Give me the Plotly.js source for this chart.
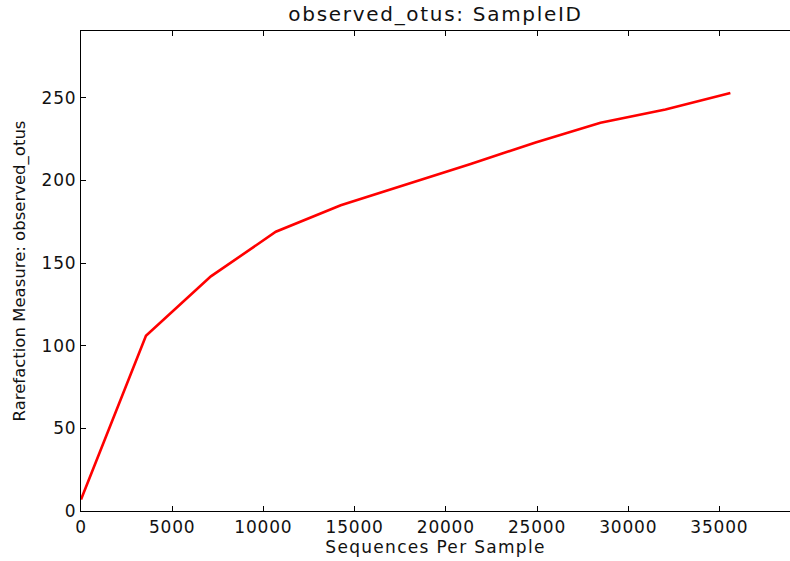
<!DOCTYPE html>
<html>
<head>
<meta charset="utf-8">
<script src="https://cdn.plot.ly/plotly-3.0.1.min.js"></script>
<style>
html,body{margin:0;padding:0;background:#fff;}
#chart{width:790px;height:561px;}
#chart .gtitle{letter-spacing:1.7px;}
#chart .xtitle{letter-spacing:1.3px;}
#chart .xtick text, #chart .ytick text{letter-spacing:0.8px;}
</style>
</head>
<body>
<div id="chart"></div>
<script>
const sequencesPerSample = [1, 3561, 7121, 10681, 14241, 17801, 21361, 24921, 28481, 32041, 35601];
const observedOtus = [7, 106, 142, 169, 185, 197.5, 210, 223, 235, 243, 253];
const xTickValues = [0, 5000, 10000, 15000, 20000, 25000, 30000, 35000];
const yTickValues = [0, 50, 100, 150, 200, 250];

const fam = 'DejaVu Sans, sans-serif';
const tickFont = {family: fam, color: '#111', size: 17};

Plotly.newPlot('chart', [{
  x: sequencesPerSample,
  y: observedOtus,
  type: 'scatter',
  mode: 'lines',
  line: {color: '#ff0000', width: 2.6},
  hoverinfo: 'skip'
}], {
  width: 790,
  height: 561,
  paper_bgcolor: '#fff',
  plot_bgcolor: '#fff',
  showlegend: false,
  margin: {l: 81, r: 0, t: 31, b: 50, pad: 0},
  font: tickFont,
  title: {text: 'observed_otus: SampleID', font: {family: fam, size: 20, color: '#111'}, x: 0.5, xref: 'paper', y: 0.987, yanchor: 'top'},
  xaxis: {
    range: [0, 38870],
    tickvals: xTickValues,
    ticktext: xTickValues.map(String),
    ticks: 'inside', ticklen: 5, tickwidth: 1, tickcolor: '#000',
    showline: true, linecolor: '#000', linewidth: 1.2, mirror: 'ticks',
    showgrid: false, zeroline: false,
    tickfont: tickFont,
    title: {text: 'Sequences Per Sample', font: {family: fam, size: 17, color: '#111'}, standoff: 3}
  },
  yaxis: {
    range: [0, 290.5],
    tickvals: yTickValues,
    ticktext: yTickValues.map(String),
    ticks: 'inside', ticklen: 5, tickwidth: 1, tickcolor: '#000',
    showline: true, linecolor: '#000', linewidth: 1.2, mirror: false,
    showgrid: false, zeroline: false,
    tickfont: tickFont,
    title: {text: 'Rarefaction Measure: observed_otus', font: {family: fam, size: 16.5, color: '#111'}, standoff: 14}
  }
}, {displayModeBar: false, staticPlot: true});
</script>
</body>
</html>
